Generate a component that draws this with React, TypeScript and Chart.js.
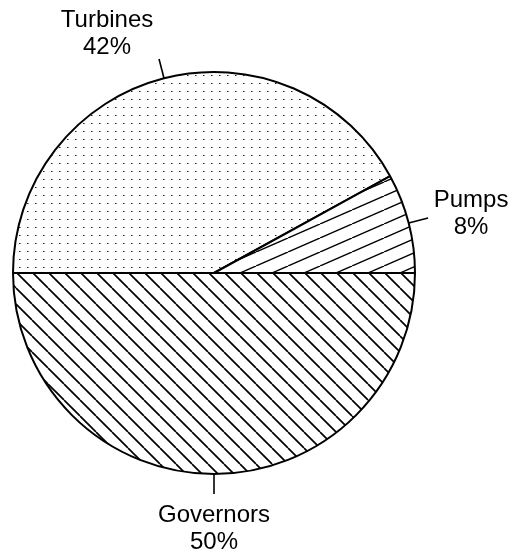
import React, { useEffect, useRef } from "react";
import { Chart, registerables } from "chart.js";

Chart.register(...registerables);

const categories = ["Turbines", "Pumps", "Governors"];
const shares = [42, 8, 50];
const shareLabels = ["42%", "8%", "50%"];

const FONT = '24px "Liberation Sans", Arial, Helvetica, sans-serif';

// label placement relative to the end of each leader tick (style only)
const labelStyle = [
  { dx: -52, dy: -32 },
  { dx: 43, dy: -11 },
  { dx: 0, dy: 28 },
];

function makeDots(): CanvasPattern | string {
  const c = document.createElement("canvas");
  c.width = 8;
  c.height = 8;
  const g = c.getContext("2d")!;
  g.fillStyle = "#ffffff";
  g.fillRect(0, 0, 8, 8);
  g.fillStyle = "#222222";
  g.fillRect(3, 3, 1, 1);
  g.fillStyle = "#888888";
  g.fillRect(4, 3, 1, 1);
  return g.createPattern(c, "repeat") || "#eee";
}

function makeLines(w: number, h: number, rising: boolean, lw: number): CanvasPattern | string {
  const c = document.createElement("canvas");
  c.width = w;
  c.height = h;
  const g = c.getContext("2d")!;
  g.fillStyle = "#ffffff";
  g.fillRect(0, 0, w, h);
  g.strokeStyle = "#000000";
  g.lineWidth = lw;
  for (let k = -1; k <= 1; k++) {
    g.beginPath();
    if (rising) {
      g.moveTo(k * w, h);
      g.lineTo(k * w + w, 0);
    } else {
      g.moveTo(k * w, 0);
      g.lineTo(k * w + w, h);
    }
    g.stroke();
  }
  return g.createPattern(c, "repeat") || "#ddd";
}

const leaderPlugin = {
  id: "leaders",
  afterDraw(chart: any) {
    const ctx = chart.ctx as CanvasRenderingContext2D;
    const meta = chart.getDatasetMeta(0);
    meta.data.forEach((arc: any, i: number) => {
      const p = arc.getProps(["x", "y", "startAngle", "endAngle", "outerRadius"], true);
      const mid = (p.startAngle + p.endAngle) / 2;
      const cos = Math.cos(mid);
      const sin = Math.sin(mid);
      const r0 = p.outerRadius;
      const r1 = p.outerRadius + 20;
      const x2 = p.x + cos * r1;
      const y2 = p.y + sin * r1;
      ctx.save();
      ctx.strokeStyle = "#000";
      ctx.lineWidth = 1.6;
      ctx.beginPath();
      ctx.moveTo(p.x + cos * r0, p.y + sin * r0);
      ctx.lineTo(x2, y2);
      ctx.stroke();
      ctx.fillStyle = "#000";
      ctx.font = FONT;
      ctx.textAlign = "center";
      ctx.textBaseline = "alphabetic";
      const tx = x2 + labelStyle[i].dx;
      const ty = y2 + labelStyle[i].dy;
      ctx.fillText(categories[i], tx, ty);
      ctx.fillText(shareLabels[i], tx, ty + 27);
      ctx.restore();
    });
  },
};

export default function App() {
  const ref = useRef<HTMLCanvasElement | null>(null);
  useEffect(() => {
    if (!ref.current) return;
    const fills = [makeDots(), makeLines(32, 14, true, 1.4), makeLines(16, 16, false, 1.7)];
    const chart = new Chart(ref.current, {
      type: "pie",
      data: {
        labels: categories,
        datasets: [
          {
            data: shares,
            backgroundColor: fills as any,
            borderColor: "#000000",
            borderWidth: 2,
          },
        ],
      },
      options: {
        responsive: false,
        animation: false,
        rotation: 270,
        layout: { padding: { left: 12, right: 97, top: 71, bottom: 81 } },
        plugins: {
          legend: { display: false },
          tooltip: { enabled: false },
        },
      },
      plugins: [leaderPlugin],
    });
    return () => chart.destroy();
  }, []);
  return (
    <div style={{ position: "absolute", left: 0, top: 0, width: 513, height: 556, background: "#fff" }}>
      <canvas ref={ref} width={513} height={556} style={{ display: "block" }} />
    </div>
  );
}
